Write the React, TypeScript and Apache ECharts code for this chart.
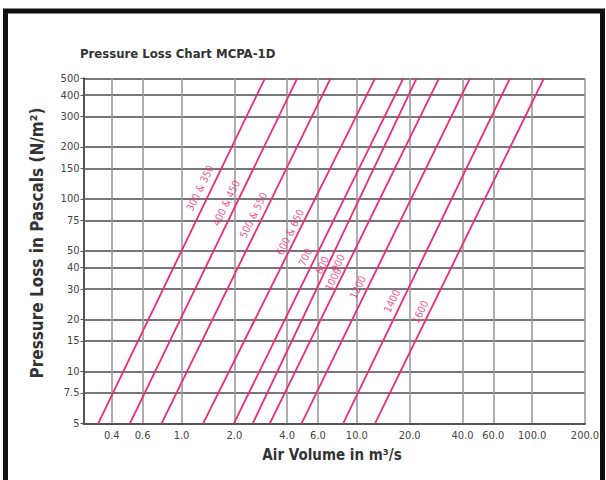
import React, { useEffect, useRef } from 'react';
import * as echarts from 'echarts';

// Axis tick values
const xTicks = [0.4, 0.6, 1, 2, 4, 6, 10, 20, 40, 60, 100, 200];
const yTicks = [5, 7.5, 10, 15, 20, 30, 40, 50, 75, 100, 150, 200, 300, 400, 500];

// Each curve: air volume (m³/s) at 5 Pa and at 500 Pa
const flowAt5Pa = [0.335, 0.508, 0.77, 1.33, 1.99, 2.55, 3.19, 4.84, 8.36, 12.7];
const flowAt500Pa = [2.99, 4.57, 7.08, 12.7, 18.4, 21.9, 29.4, 44.1, 74.6, 116.5];
const pressureEnds = [5, 500];

// Size labels written along the curves
const labelTexts = ['300 & 350', '400 & 450', '500 & 550', '600 & 650', '700', '800', '900', '1000', '1200', '1400', '1600'];
const labelFlow = [1.27, 1.79, 2.56, 4.15, 5.06, 6.32, 7.8, 7.3, 10.1, 15.8, 22.9];
const labelPressure = [115.6, 94.6, 80.6, 64.3, 46.0, 41.4, 42.5, 34.3, 30.8, 25.6, 22.1];

const PINK = '#ee2b78';
const FONT = '"DejaVu Sans Condensed", "Liberation Sans", Arial, sans-serif';

export default function App() {
  const ref = useRef<HTMLDivElement>(null);
  useEffect(() => {
    if (!ref.current) return;
    const chart = echarts.init(ref.current, undefined, { renderer: 'svg' });
    const lineSeries = flowAt5Pa.map((q, i) => ({
      type: 'line',
      name: 'c' + i,
      data: [
        [q, pressureEnds[0]],
        [flowAt500Pa[i], pressureEnds[1]],
      ],
      symbol: 'none',
      silent: true,
      lineStyle: { color: PINK, width: 1.8 },
      z: 3,
    }));
    const labelSeries = {
      type: 'scatter',
      symbolSize: 0,
      silent: true,
      z: 4,
      data: labelTexts.map((t, i) => ({ name: t, value: [labelFlow[i], labelPressure[i]] })),
      label: {
        show: true,
        position: 'inside',
        formatter: (p: any) => p.name,
        rotate: 64,
        color: PINK,
        fontSize: 10.5,
        fontFamily: FONT,
      },
    };
    chart.setOption({
      animation: false,
      backgroundColor: '#ffffff',
      grid: { left: 83.5, right: 21, top: 78.3, bottom: 56.7, containLabel: false },
      xAxis: {
        type: 'log',
        logBase: 10,
        min: 0.276,
        max: 200,
        axisLine: { show: true, lineStyle: { color: '#555', width: 2 } },
        axisTick: { show: false, customValues: xTicks },
        axisLabel: {
          customValues: xTicks,
          formatter: (v: number) => v.toFixed(1),
          color: '#444',
          fontSize: 11,
          fontFamily: FONT,
          margin: 7,
        },
        splitLine: { show: true, lineStyle: { color: '#9a9a9a', width: 1.6 } },
        minorSplitLine: { show: false },
      },
      yAxis: {
        type: 'log',
        logBase: 10,
        min: 5,
        max: 500,
        axisLine: { show: true, lineStyle: { color: '#555', width: 2 } },
        axisTick: { show: true, customValues: yTicks, length: 3, lineStyle: { color: '#555' } },
        axisLabel: {
          customValues: yTicks,
          formatter: (v: number) => String(v),
          color: '#444',
          fontSize: 11,
          fontFamily: FONT,
          margin: 4,
        },
        splitLine: { show: true, lineStyle: { color: '#4a4a4a', width: 1.6 } },
      },
      graphic: [
        {
          type: 'rect',
          shape: { x: 5.5, y: 11, width: 597, height: 475 },
          style: { fill: 'none', stroke: '#111', lineWidth: 5 },
          silent: true,
          z: 10,
        },
        {
          type: 'text',
          x: 80,
          y: 53,
          style: {
            text: 'Pressure Loss Chart MCPA-1D',
            font: 'bold 13px ' + FONT,
            fill: '#333',
            textVerticalAlign: 'middle',
          },
        },
        {
          type: 'text',
          x: 37,
          y: 243,
          rotation: Math.PI / 2,
          style: {
            text: 'Pressure Loss in Pascals (N/m²)',
            font: 'bold 17px ' + FONT,
            fill: '#333',
            textAlign: 'center',
            textVerticalAlign: 'middle',
          },
        },
        {
          type: 'text',
          x: 332,
          y: 455,
          style: {
            text: 'Air Volume in m³/s',
            font: 'bold 15px ' + FONT,
            fill: '#333',
            textAlign: 'center',
            textVerticalAlign: 'middle',
          },
        },
      ],
      series: [...lineSeries, labelSeries],
    });
    return () => chart.dispose();
  }, []);
  return <div ref={ref} style={{ position: 'fixed', left: 0, top: 0, width: 606, height: 480 }} />;
}
